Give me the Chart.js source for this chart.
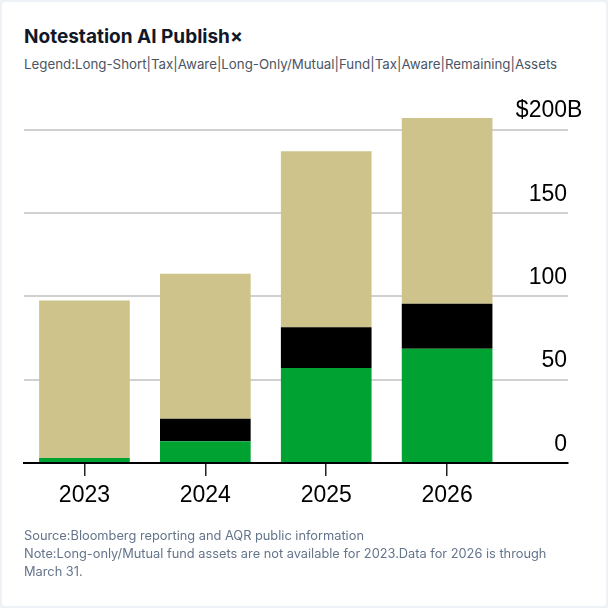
<!DOCTYPE html>
<html>
<head>
<meta charset="utf-8">
<script src="https://cdn.jsdelivr.net/npm/chart.js@4.4.1/dist/chart.umd.min.js"></script>
<style>
  html, body { margin: 0; padding: 0; }
  body { width: 608px; height: 608px; background: #eef2f6; position: relative; overflow: hidden; font-family: Inter, "Noto Sans", sans-serif; }
  .card { position: absolute; left: 2px; top: 2px; width: 604px; height: 604px; background: #fff; border-radius: 3px; }
  .title { position: absolute; left: 24px; top: 24px; font-size: 19px; font-weight: 700; color: #111827; line-height: 26px; white-space: nowrap; }
  .legend { position: absolute; left: 24px; top: 55px; font-size: 13.3px; color: #4b5563; line-height: 18px; white-space: nowrap; }
  .foot { position: absolute; left: 24px; top: 527px; font-size: 12.8px; color: #64748b; line-height: 18px; }
  #wrap { position: absolute; left: 0; top: 0; width: 608px; height: 608px; }
</style>
</head>
<body>
<div class="card"></div>
<div class="title">Notestation AI Publish×</div>
<div class="legend">Legend:Long-Short|Tax|Aware|Long-Only/Mutual|Fund|Tax|Aware|Remaining|Assets</div>
<div id="wrap"><canvas id="chart" width="608" height="608"></canvas></div>
<div class="foot">Source:Bloomberg reporting and AQR public information<br>Note:Long-only/Mutual fund assets are not available for 2023.Data for 2026 is through<br>March 31.</div>
<script>
const years = ['2023', '2024', '2025', '2026'];
const longShortTaxAware = [3, 13, 57, 68.5];
const longOnlyMutualFund = [0, 13.5, 24.5, 27];
const remainingAssets = [94.5, 87, 105.5, 111.5];
const yTicks = [0, 50, 100, 150, 200];

const toPoints = arr => arr.map((v, i) => ({ x: i, y: v }));

// y labels sit above their gridline, "$" and "B" hang off the top one
const yLabels = {
  id: 'yLabels',
  afterDraw(chart) {
    const { ctx, chartArea, scales } = chart;
    const y = scales.y;
    ctx.save();
    ctx.font = '23px "Liberation Sans", Arial, sans-serif';
    ctx.fillStyle = '#000';
    ctx.textBaseline = 'alphabetic';
    ctx.textAlign = 'right';
    yTicks.forEach((v, i) => {
      const py = y.getPixelForValue(v) - 12.5;
      if (i === yTicks.length - 1) {
        const bw = ctx.measureText('B').width;
        ctx.fillText('$' + v + 'B', chartArea.right - 1 + bw, py);
      } else {
        ctx.fillText(String(v), chartArea.right - 1, py);
      }
    });
    ctx.restore();
  }
};

new Chart(document.getElementById('chart'), {
  type: 'bar',
  data: {
    datasets: [
      { label: 'Long-Short Tax Aware', data: toPoints(longShortTaxAware), backgroundColor: '#00a331' },
      { label: 'Long-Only/Mutual Fund Tax Aware', data: toPoints(longOnlyMutualFund), backgroundColor: '#000000' },
      { label: 'Remaining Assets', data: toPoints(remainingAssets), backgroundColor: '#cdc38b' }
    ]
  },
  options: {
    responsive: false,
    animation: false,
    devicePixelRatio: 1,
    layout: { padding: { left: 24, right: 40, top: 113, bottom: 105 } },
    plugins: { legend: { display: false }, tooltip: { enabled: false } },
    datasets: { bar: { categoryPercentage: 1, barPercentage: 0.75, borderWidth: 0 } },
    scales: {
      x: {
        type: 'linear',
        stacked: true,
        offset: false,
        min: -0.5,
        max: 4,
        z: 1,
        afterBuildTicks: s => { s.ticks = years.map((_, i) => ({ value: i })); },
        afterFit: s => { s.height = 40; },
        border: { display: true, color: '#000', width: 2 },
        grid: { offset: false, drawOnChartArea: false, drawTicks: true, tickLength: 13, color: '#222', lineWidth: 1.5 },
        ticks: {
          padding: 6,
          color: '#000',
          font: { family: '"Liberation Sans", Arial, sans-serif', size: 23 },
          callback: v => years[v] ?? ''
        }
      },
      y: {
        stacked: true,
        position: 'right',
        min: 0,
        max: 210,
        afterBuildTicks: s => { s.ticks = yTicks.map(v => ({ value: v })); },
        afterFit: s => { s.width = 0; },
        border: { display: false },
        grid: { color: '#d0d0d0', lineWidth: 2, drawTicks: false },
        ticks: { display: false }
      }
    }
  },
  plugins: [yLabels]
});
</script>
</body>
</html>
